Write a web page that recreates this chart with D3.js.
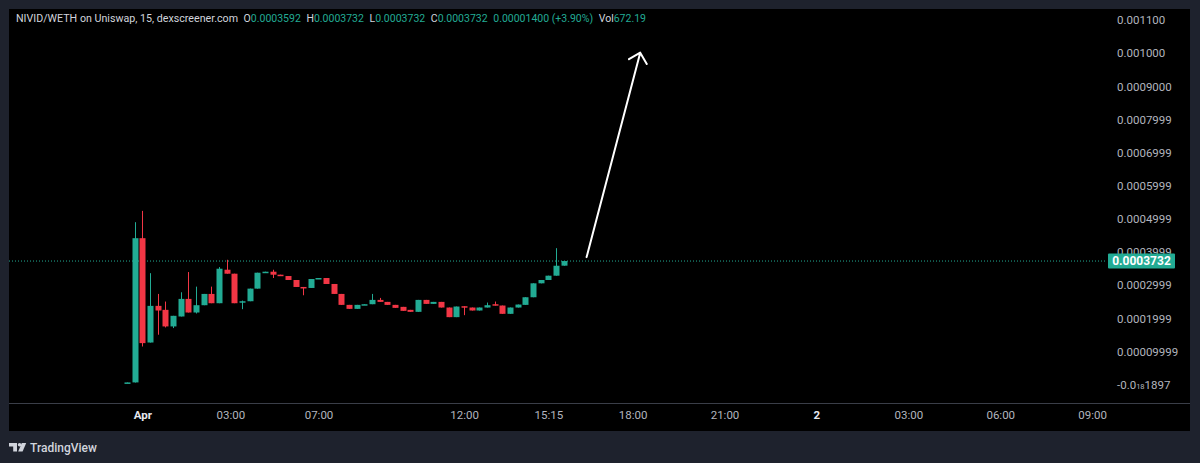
<!DOCTYPE html>
<html>
<head>
<meta charset="utf-8">
<script src="https://cdn.jsdelivr.net/npm/d3@7"></script>
<style>
  html, body { margin: 0; padding: 0; background: #1e222d; }
  svg { display: block; }
</style>
</head>
<body>
<div id="container"></div>
<script>
/* CONSTANTS AND GLOBALS */
const width = 1200,
  height = 463,
  panel = {left: 9, top: 9, right: 1190, bottom: 431},
  axisY = 403,
  labelFont = "Roboto, 'Liberation Sans', sans-serif";

const up = "#22ab94", down = "#f23645";

/* DATA (15 min bars, index 0 = first bar) */
const open  = [0.0000069,0.0000072,0.0004421,0.0001275,0.0002380,0.0002260,0.0001760,0.0002060,0.0002590,0.0002180,
               0.0002400,0.0002740,0.0002460,0.0003470,0.0003350,0.0002500,0.0002520,0.0002900,0.0003380,0.0003410,
               0.0003320,0.0003280,0.0003160,0.0002950,0.0002920,0.0003190,0.0003220,0.0003040,0.0002740,0.0002410,
               0.0002290,0.0002410,0.0002430,0.0002560,0.0002500,0.0002410,0.0002350,0.0002260,0.0002200,0.0002560,
               0.0002440,0.0002500,0.0002330,0.0002040,0.0002370,0.0002330,0.0002240,0.0002330,0.0002430,0.0002390,
               0.0002140,0.0002330,0.0002410,0.0002640,0.0003060,0.0003160,0.0003290,0.0003592];
const high  = [0.0000075,0.0004903,0.0005244,0.0003366,0.0002740,0.0002510,0.0002080,0.0002790,0.0003400,0.0002960,
               0.0002740,0.0002960,0.0003550,0.0003770,0.0003350,0.0002540,0.0002900,0.0003380,0.0003410,0.0003470,
               0.0003320,0.0003280,0.0003160,0.0002950,0.0003190,0.0003220,0.0003220,0.0003040,0.0002740,0.0002410,
               0.0002410,0.0002430,0.0002740,0.0002620,0.0002500,0.0002410,0.0002350,0.0002260,0.0002560,0.0002560,
               0.0002500,0.0002500,0.0002330,0.0002360,0.0002370,0.0002330,0.0002330,0.0002480,0.0002510,0.0002390,
               0.0002330,0.0002420,0.0002640,0.0003060,0.0003160,0.0003290,0.0004120,0.0003732];
const low   = [0.0000060,0.0000069,0.0001154,0.0001275,0.0001510,0.0001730,0.0001710,0.0002060,0.0002180,0.0002150,
               0.0002400,0.0002460,0.0002460,0.0003350,0.0002460,0.0002280,0.0002520,0.0002900,0.0003380,0.0003220,
               0.0003280,0.0003160,0.0002950,0.0002700,0.0002920,0.0003190,0.0003040,0.0002740,0.0002410,0.0002290,
               0.0002290,0.0002410,0.0002430,0.0002500,0.0002410,0.0002320,0.0002230,0.0002200,0.0002200,0.0002440,
               0.0002440,0.0002330,0.0002040,0.0002040,0.0002100,0.0002240,0.0002240,0.0002330,0.0002390,0.0002140,
               0.0002140,0.0002330,0.0002410,0.0002640,0.0003060,0.0003160,0.0003290,0.0003592];
const close = [0.0000072,0.0004421,0.0001257,0.0002380,0.0002240,0.0001760,0.0002080,0.0002590,0.0002180,0.0002400,
               0.0002740,0.0002460,0.0003500,0.0003350,0.0002460,0.0002520,0.0002900,0.0003380,0.0003410,0.0003320,
               0.0003280,0.0003160,0.0002950,0.0002930,0.0003190,0.0003220,0.0003040,0.0002740,0.0002410,0.0002290,
               0.0002410,0.0002430,0.0002560,0.0002500,0.0002410,0.0002320,0.0002230,0.0002200,0.0002560,0.0002440,
               0.0002500,0.0002330,0.0002040,0.0002360,0.0002350,0.0002240,0.0002330,0.0002400,0.0002390,0.0002140,
               0.0002330,0.0002420,0.0002640,0.0003060,0.0003160,0.0003290,0.0003590,0.0003732];

const lastPrice = 0.0003732;

const priceTicks  = [0.0011, 0.001, 0.0009, 0.0008, 0.0007, 0.0006, 0.0005, 0.0004, 0.0003, 0.0002, 0.0001, 0];
const priceLabels = ["0.001100","0.001000","0.0009000","0.0007999","0.0006999","0.0005999",
                     "0.0004999","0.0003999","0.0002999","0.0001999","0.00009999","-0.0|18|1897"];

const timeTicks  = [2, 13.5, 25, 44, 55, 66, 78, 90, 102, 114, 126];
const timeLabels = ["Apr","03:00","07:00","12:00","15:15","18:00","21:00","2","03:00","06:00","09:00"];
const boldTimes  = ["Apr","2"];

// arrow drawn on the chart: [bar index, price]
const arrowFrom = [60, 0.000385];
const arrowTo   = [67, 0.0010015];

// legend groups: [label, value]
const headerTitle = "NIVID/WETH on Uniswap, 15, dexscreener.com";
const headerItems = [
  ["O", "0.0003592"],
  ["H", "0.0003732"],
  ["L", "0.0003732"],
  ["C", "0.0003732"],
  ["", "0.00001400 (+3.90%)"],
  ["Vol", "672.19"]
];

const bars = open.map((o, i) => ({i, o, h: high[i], l: low[i], c: close[i]}));

/* SCALES */
const x = d3.scaleLinear()
  .domain([0, 126])
  .range([127, 127 + 126 * 7.66]);

const y = d3.scaleLinear()
  .domain([0, 0.0011])
  .range([384.8, 20]);

/* HTML ELEMENTS */
const svg = d3.select("#container")
  .append("svg")
  .attr("width", width)
  .attr("height", height)
  .style("background-color", "#1e222d");

svg.append("rect")
  .attr("x", panel.left).attr("y", panel.top)
  .attr("width", panel.right - panel.left)
  .attr("height", panel.bottom - panel.top)
  .attr("fill", "#000");

svg.append("defs").append("clipPath").attr("id", "plot")
  .append("rect")
  .attr("x", panel.left).attr("y", panel.top)
  .attr("width", 1098 - panel.left).attr("height", axisY - panel.top);

// header legend, spread between the title and x = 646
const head = svg.append("g")
  .attr("font-family", labelFont)
  .attr("font-size", 10.5);
head.append("text")
  .attr("x", 16).attr("y", 22)
  .attr("fill", "#d1d4dc")
  .attr("textLength", 222)
  .attr("lengthAdjust", "spacingAndGlyphs")
  .text(headerTitle);
const items = headerItems.map(([k, v]) => {
  const t = head.append("text").attr("y", 22);
  if (k) t.append("tspan").attr("fill", "#d1d4dc").text(k);
  t.append("tspan").attr("fill", up).text(v);
  return t;
});
const itemsW = d3.sum(items, t => t.node().getComputedTextLength());
const gap = (646 - (16 + 222) - itemsW) / items.length;
let hx = 16 + 222 + gap;
items.forEach(t => {
  t.attr("x", hx);
  hx += t.node().getComputedTextLength() + gap;
});

// last price dotted line
svg.append("line")
  .attr("x1", panel.left).attr("x2", 1107)
  .attr("y1", y(lastPrice)).attr("y2", y(lastPrice))
  .attr("stroke", up)
  .attr("stroke-width", 1)
  .attr("stroke-dasharray", "1,2");

// candles
const plot = svg.append("g").attr("clip-path", "url(#plot)");
const candle = plot.selectAll("g.candle")
  .data(bars)
  .join("g")
  .attr("class", "candle")
  .attr("fill", d => d.c >= d.o ? up : down)
  .attr("stroke", d => d.c >= d.o ? up : down);

candle.append("line")
  .attr("x1", d => Math.round(x(d.i)) + 0.5)
  .attr("x2", d => Math.round(x(d.i)) + 0.5)
  .attr("y1", d => y(d.h))
  .attr("y2", d => y(d.l))
  .attr("stroke-width", 1);

candle.append("rect")
  .attr("stroke", "none")
  .attr("x", d => Math.round(x(d.i)) - 2.5)
  .attr("width", 6)
  .attr("y", d => y(Math.max(d.o, d.c)))
  .attr("height", d => Math.max(1.5, Math.abs(y(d.o) - y(d.c))));

// arrow annotation
const ax1 = x(arrowFrom[0]), ay1 = y(arrowFrom[1]);
const ax2 = x(arrowTo[0]),   ay2 = y(arrowTo[1]);
const ang = Math.atan2(ay1 - ay2, ax1 - ax2), headLen = 13, spread = Math.PI / 4;
svg.append("path")
  .attr("d", `M${ax1},${ay1}L${ax2},${ay2}` +
    `M${ax2 + headLen * Math.cos(ang - spread)},${ay2 + headLen * Math.sin(ang - spread)}L${ax2},${ay2}` +
    `L${ax2 + headLen * Math.cos(ang + spread)},${ay2 + headLen * Math.sin(ang + spread)}`)
  .attr("fill", "none")
  .attr("stroke", "#ffffff")
  .attr("stroke-width", 2)
  .attr("stroke-linecap", "round")
  .attr("stroke-linejoin", "round");

// time axis
svg.append("line")
  .attr("x1", panel.left).attr("x2", panel.right)
  .attr("y1", axisY + 0.5).attr("y2", axisY + 0.5)
  .attr("stroke", "#3a3e48");

const xAxis = d3.axisBottom(x)
  .tickValues(timeTicks)
  .tickFormat((d, i) => timeLabels[i])
  .tickSize(0)
  .tickPadding(8);

const gx = svg.append("g")
  .attr("transform", `translate(0,${axisY})`)
  .call(xAxis);
gx.select(".domain").remove();
gx.selectAll("text")
  .attr("font-family", labelFont)
  .attr("font-size", 11.5)
  .attr("fill", d => boldTimes.includes(timeLabels[timeTicks.indexOf(d)]) ? "#e6e8ee" : "#b2b5be")
  .attr("font-weight", d => boldTimes.includes(timeLabels[timeTicks.indexOf(d)]) ? "bold" : "normal");

// price axis
const yAxis = d3.axisRight(y)
  .tickValues(priceTicks)
  .tickFormat((d, i) => priceLabels[i])
  .tickSize(0)
  .tickPadding(0);

const gy = svg.append("g")
  .attr("transform", `translate(1117,0)`)
  .call(yAxis);
gy.select(".domain").remove();
gy.selectAll("text")
  .attr("font-family", labelFont)
  .attr("font-size", 11.5)
  .attr("fill", "#b2b5be")
  .each(function(d, i) {
    const parts = priceLabels[i].split("|");
    if (parts.length === 3) {
      const t = d3.select(this).text(null);
      t.append("tspan").text(parts[0]);
      t.append("tspan").attr("font-size", 7.5).text(parts[1]);
      t.append("tspan").text(parts[2]);
    }
  });

// last price label
const lp = svg.append("g").attr("transform", `translate(1108,${y(lastPrice)})`);
lp.append("rect")
  .attr("x", 0).attr("y", -7.5)
  .attr("width", 67).attr("height", 15)
  .attr("rx", 1)
  .attr("fill", up);
lp.append("text")
  .attr("x", 33.5).attr("y", 0)
  .attr("dy", "0.35em")
  .attr("text-anchor", "middle")
  .attr("font-family", labelFont)
  .attr("font-size", 12)
  .attr("font-weight", "bold")
  .attr("fill", "#ffffff")
  .text(lastPrice.toFixed(7));

// TradingView mark
const logo = svg.append("g").attr("fill", "#d1d4dc");
logo.append("path").attr("d", "M9,443H17V451.5H13.2V446.6H9Z");
logo.append("circle").attr("cx", 19.6).attr("cy", 444.8).attr("r", 1.8);
logo.append("path").attr("d", "M21.8,443H26.2L22.6,451.5H18.2Z");
logo.append("text")
  .attr("x", 30).attr("y", 452)
  .attr("font-family", labelFont)
  .attr("font-size", 12)
  .attr("font-weight", 500)
  .attr("fill", "#d1d4dc")
  .text("TradingView");
</script>
</body>
</html>
